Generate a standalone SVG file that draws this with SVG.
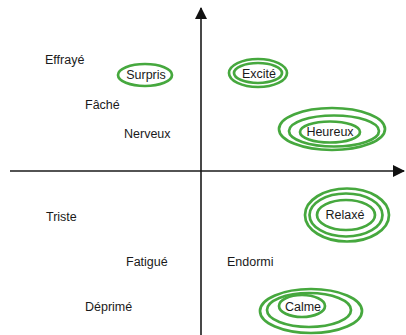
<svg xmlns="http://www.w3.org/2000/svg" width="406" height="335" viewBox="0 0 406 335">
<defs>
<style>
.lbl{font-family:"Liberation Sans",Arial,sans-serif;font-size:12.5px;fill:#1a1a1a}
.c{text-anchor:middle}
.ring{fill:none;stroke:#46a83e;stroke-width:2.7}
.axis{stroke:#1a1a1a;stroke-width:1.6;fill:none}
</style>
<marker id="ah" viewBox="0 0 12 12" refX="11" refY="6" markerWidth="12" markerHeight="12" markerUnits="userSpaceOnUse" orient="auto">
<path d="M0,0 L12,6 L0,12 Z" fill="#111"/>
</marker>
</defs>
<rect width="406" height="335" fill="#fff"/>
<g id="connectors">
<line class="axis" x1="10" y1="171" x2="404" y2="171" marker-end="url(#ah)"/>
<line class="axis" x1="201" y1="335" x2="201" y2="8" marker-end="url(#ah)"/>
</g>
<g id="effraye"><text class="lbl" x="45" y="64">Effrayé</text></g>
<g id="fache"><text class="lbl" x="85" y="109">Fâché</text></g>
<g id="nerveux"><text class="lbl" x="124" y="138">Nerveux</text></g>
<g id="triste"><text class="lbl" x="46" y="221">Triste</text></g>
<g id="fatigue"><text class="lbl" x="126" y="266">Fatigué</text></g>
<g id="endormi"><text class="lbl" x="227" y="266">Endormi</text></g>
<g id="deprime"><text class="lbl" x="85" y="311">Déprimé</text></g>
<g id="surpris">
<ellipse class="ring" cx="145" cy="75" rx="27" ry="11"/>
<text class="lbl c" x="146" y="79">Surpris</text>
</g>
<g id="excite">
<ellipse class="ring" cx="258" cy="73" rx="29" ry="14"/>
<ellipse class="ring" cx="258" cy="73" rx="24" ry="10"/>
<text class="lbl c" x="259" y="78">Excité</text>
</g>
<g id="heureux">
<ellipse class="ring" cx="332" cy="129" rx="53" ry="21"/>
<ellipse class="ring" cx="334" cy="131" rx="45" ry="15.5"/>
<ellipse class="ring" cx="330" cy="132" rx="30" ry="10.5"/>
<text class="lbl c" x="330" y="136">Heureux</text>
</g>
<g id="relaxe">
<ellipse class="ring" cx="347" cy="215" rx="42" ry="26.5"/>
<ellipse class="ring" cx="346" cy="215" rx="36.5" ry="21.5"/>
<ellipse class="ring" cx="346" cy="215" rx="29" ry="15"/>
<text class="lbl c" x="345" y="219">Relaxé</text>
</g>
<g id="calme">
<ellipse class="ring" cx="311" cy="311" rx="51" ry="22"/>
<ellipse class="ring" cx="309" cy="310" rx="42" ry="17"/>
<ellipse class="ring" cx="302" cy="306" rx="23" ry="11"/>
<text class="lbl c" x="303" y="311">Calme</text>
</g>
</svg>
